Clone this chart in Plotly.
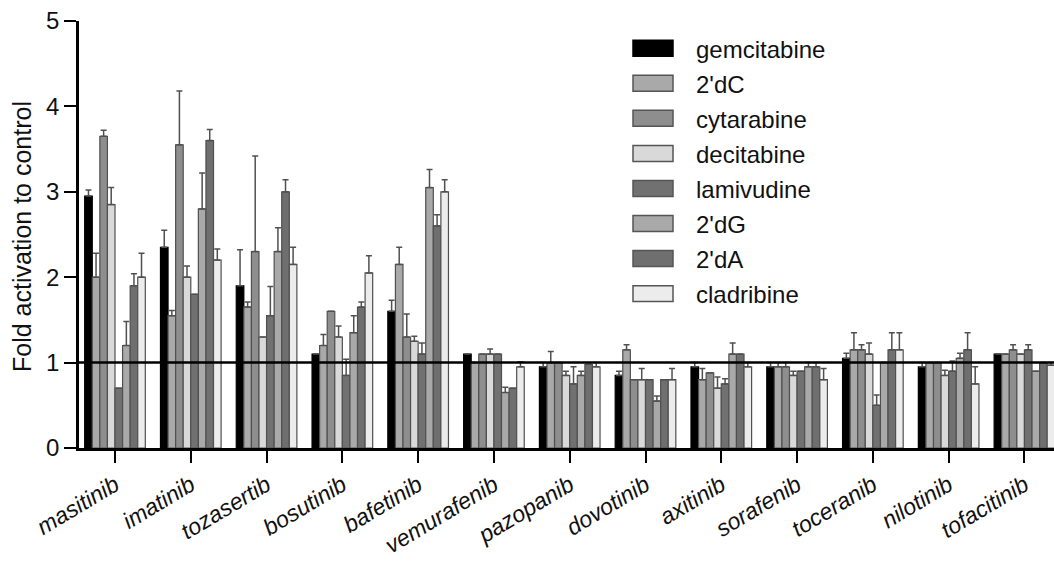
import plotly.graph_objects as go

categories = ["masitinib", "imatinib", "tozasertib", "bosutinib", "bafetinib", "vemurafenib",
              "pazopanib", "dovotinib", "axitinib", "sorafenib", "toceranib", "nilotinib", "tofacitinib"]

series_names = ["gemcitabine", "2'dC", "cytarabine", "decitabine", "lamivudine", "2'dG", "2'dA", "cladribine"]
series_colors = ["#000000", "#a9a9a9", "#8e8e8e", "#d9d9d9", "#717171", "#a9a9a9", "#6f6f6f", "#ececec"]

gemcitabine = [2.95, 2.35, 1.9, 1.1, 1.6, 1.1, 0.95, 0.85, 0.95, 0.95, 1.05, 0.95, 1.1]
gemcitabine_err = [0.07, 0.2, 0.42, None, 0.13, None, 0.05, 0.05, 0.05, 0.05, 0.06, 0.05, None]
dC = [2.0, 1.55, 1.65, 1.2, 2.15, 1.0, 1.0, 1.15, 0.8, 0.95, 1.15, 1.0, 1.1]
dC_err = [0.28, 0.06, 0.06, 0.13, 0.2, None, 0.13, 0.06, 0.13, 0.05, 0.2, None, None]
cytarabine = [3.65, 3.55, 2.3, 1.6, 1.3, 1.1, 1.0, 0.8, 0.88, 0.95, 1.15, 1.0, 1.15]
cytarabine_err = [0.07, 0.63, 1.12, None, 0.27, None, None, None, None, 0.05, 0.06, None, 0.06]
decitabine = [2.85, 2.0, 1.3, 1.3, 1.25, 1.1, 0.85, 0.8, 0.7, 0.85, 1.1, 0.85, 1.1]
decitabine_err = [0.2, 0.13, None, 0.13, 0.06, 0.06, 0.05, 0.13, 0.13, 0.05, 0.13, 0.06, None]
lamivudine = [0.7, 1.8, 1.55, 0.85, 1.1, 1.1, 0.75, 0.8, 0.75, 0.9, 0.5, 0.9, 1.15]
lamivudine_err = [None, None, 0.34, 0.19, 0.13, None, 0.2, None, 0.06, None, 0.12, 0.12, 0.06]
dG = [1.2, 2.8, 2.3, 1.35, 3.05, 0.65, 0.85, 0.55, 1.1, 0.95, 1.0, 1.05, 0.9]
dG_err = [0.28, 0.42, 0.28, 0.2, 0.21, 0.06, 0.05, 0.06, 0.13, 0.05, None, 0.06, None]
dA = [1.9, 3.6, 3.0, 1.65, 2.6, 0.7, 0.98, 0.8, 1.1, 0.95, 1.15, 1.15, 1.0]
dA_err = [0.14, 0.13, 0.14, 0.06, 0.13, None, None, None, None, 0.05, 0.2, 0.2, None]
cladribine = [2.0, 2.2, 2.15, 2.05, 3.0, 0.95, 0.95, 0.8, 0.95, 0.8, 1.15, 0.75, 0.97]
cladribine_err = [0.28, 0.13, 0.2, 0.2, 0.14, 0.06, 0.05, 0.13, 0.05, 0.13, 0.2, 0.2, 0.03]

values = [gemcitabine, dC, cytarabine, decitabine, lamivudine, dG, dA, cladribine]
errors = [gemcitabine_err, dC_err, cytarabine_err, decitabine_err, lamivudine_err, dG_err, dA_err, cladribine_err]

y_ticks = [0, 1, 2, 3, 4, 5]
reference_level = 1

FONT = "Liberation Sans, Arial, sans-serif"

fig = go.Figure()
for name, color, vals, errs in zip(series_names, series_colors, values, errors):
    fig.add_trace(go.Bar(
        name=name, x=categories, y=vals,
        marker=dict(color=color, line=dict(color="#000000" if color == "#000000" else "#505050", width=1.2)),
        error_y=dict(type="data", symmetric=False, array=errs,
                     arrayminus=[0 if e is not None else None for e in errs],
                     color="#505050", thickness=1.5, width=3),
        showlegend=False,
    ))

# reference line at fold = 1
fig.add_shape(type="line", xref="paper", yref="y", x0=0, x1=1,
              y0=reference_level, y1=reference_level,
              line=dict(color="black", width=2.5), layer="above")

# manual legend (wide swatches)
W, L, T, B = 1054, 79, 20.7, 448.3
def px_x(p):
    return (p - L) / (W - L)
def px_y(p):
    return (B - p) / (B - T)

for i, (name, color) in enumerate(zip(series_names, series_colors)):
    cy = 48 + i * 35.1
    fig.add_shape(type="rect", xref="paper", yref="paper",
                  x0=px_x(633), x1=px_x(673), y0=px_y(cy + 8), y1=px_y(cy - 8),
                  fillcolor=color, line=dict(color="#555555" if i else "#000000", width=1.5))
    fig.add_annotation(xref="paper", yref="paper", x=px_x(694), y=px_y(cy + 1),
                       text=name, showarrow=False, xanchor="left", yanchor="middle",
                       font=dict(family=FONT, size=24, color="#111111"))

fig.add_annotation(xref="paper", yref="paper", x=px_x(22), y=px_y(237),
                   text="Fold activation to control", textangle=-90, showarrow=False,
                   xanchor="center", yanchor="middle",
                   font=dict(family=FONT, size=25, color="#111111"))

fig.update_layout(
    width=1054, height=562,
    margin=dict(l=L, r=0, t=T, b=562 - B, pad=0),
    paper_bgcolor="white", plot_bgcolor="white",
    barmode="group", bargap=0.2, bargroupgap=0,
    font=dict(family=FONT, size=24, color="#111111"),
    xaxis=dict(range=[-0.475, 12.39], showline=True, linecolor="black", linewidth=2.5,
               ticks="outside", ticklen=12, tickwidth=2, tickcolor="black",
               tickangle=-31, tickfont=dict(family=FONT, size=23, style="italic"),
               showgrid=False, zeroline=False, automargin=False),
    yaxis=dict(range=[0, 5], tickvals=y_ticks, showline=True, linecolor="black", linewidth=2.5,
               ticks="outside", ticklen=12, tickwidth=2, tickcolor="black",
               tickfont=dict(family=FONT, size=24),
               showgrid=False, zeroline=False, automargin=False),
)

fig.write_html("out.html")
